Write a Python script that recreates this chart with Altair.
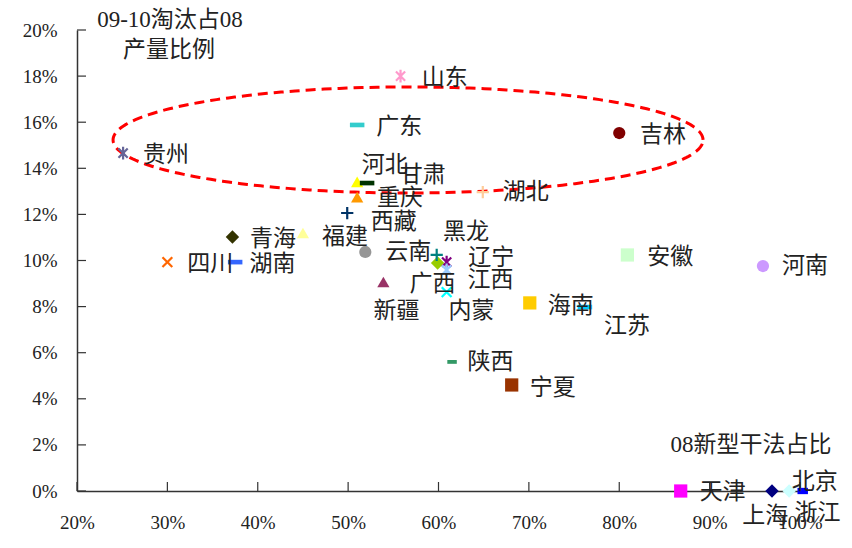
import altair as alt
import numpy as np
import pandas as pd

# ---- data: 2008 share of new dry-process capacity (x) vs 2009-10 phase-out share of 2008 output (y)
provinces = ["贵州", "山东", "广东", "吉林", "河北", "甘肃", "重庆", "湖北", "西藏", "福建",
             "青海", "四川", "湖南", "云南", "黑龙", "广西", "辽宁", "江西", "内蒙", "新疆",
             "海南", "江苏", "陕西", "宁夏", "安徽", "河南", "天津", "上海", "浙江", "北京"]
new_dry_share = [0.251, 0.558, 0.510, 0.800, 0.510, 0.521, 0.510, 0.649, 0.499, 0.450,
                 0.372, 0.300, 0.375, 0.519, 0.598, 0.599, 0.609, 0.609, 0.609, 0.539,
                 0.701, 0.762, 0.615, 0.681, 0.809, 0.959, 0.868, 0.969, 0.988, 1.003]
phaseout_share = [0.1466, 0.1800, 0.1588, 0.1553, 0.1341, 0.1336, 0.1275, 0.1297, 0.1206, 0.1119,
                  0.1102, 0.0993, 0.0993, 0.1037, 0.1024, 0.0989, 0.0993, 0.0959, 0.0863, 0.0907,
                  0.0816, 0.0798, 0.0560, 0.0460, 0.1024, 0.0976, 0.0, 0.0, 0.0, 0.0]

x_ticks = [0.2, 0.3, 0.4, 0.5, 0.6, 0.7, 0.8, 0.9, 1.0]
y_ticks = [0.0, 0.02, 0.04, 0.06, 0.08, 0.10, 0.12, 0.14, 0.16, 0.18, 0.20]

# ---- marker styling
marker_color = ["#666699", "#FF99CC", "#33CCCC", "#800000", "#FFFF00", "#003300", "#FF9900", "#FFCC99",
                "#003366", "#FFFF99", "#333300", "#FF6600", "#3366FF", "#969696", "#008080", "#99CC00",
                "#800080", "#99CCFF", "#00FFFF", "#993366", "#FFCC00", "#00CCFF", "#339966", "#993300",
                "#CCFFCC", "#CC99FF", "#FF00FF", "#000080", "#CCFFFF", "#0000FF"]
marker_kind = ["star", "star", "dash", "circle", "tri", "dash", "tri", "plus", "plus", "tri",
               "diamond", "cross", "dash", "circle", "plus", "diamond", "star", "star", "cross", "tri",
               "square", "dash", "dash_s", "square", "square", "circle", "square", "diamond", "diamond", "dash_b"]

SHAPE_PATH = {
    "circle": "circle",
    "square": "square",
    "tri": "triangle-up",
    "diamond": "diamond",
    "dash": "M-1,-0.32H1V0.32H-1Z",
    "dash_s": "M-1,-0.4H1V0.4H-1Z",
    "dash_b": "M-1,-0.6H1V0.6H-1Z",
    "plus": "M-1,0H1M0,-1V1",
    "cross": "M-0.8,-0.8L0.8,0.8M-0.8,0.8L0.8,-0.8",
    "star": "M-0.75,-0.75L0.75,0.75M-0.75,0.75L0.75,-0.75M0,-1.05V1.05",
}
SHAPE_SIZE = {"circle": 150, "square": 175, "tri": 150, "diamond": 180, "dash": 210,
              "dash_s": 90, "dash_b": 110, "plus": 150, "cross": 150, "star": 150}
STROKED = {"plus", "cross", "star"}

# label anchor offsets from each marker (axis units)
label_dx = [0.022, 0.0235, 0.021, 0.023, 0.005, 0.036, 0.022, 0.022, 0.026, 0.021,
            0.0195, 0.022, 0.016, 0.022, 0.007, -0.031, 0.024, 0.023, 0.002, -0.011,
            0.020, 0.021, 0.017, 0.020, 0.022, 0.021, 0.021, -0.033, 0.006, -0.012]
label_dy = [-0.0008, -0.0008, -0.0008, -0.0009, 0.0073, 0.0035, -0.0004, 0.0, -0.0039, -0.0017,
            -0.0009, -0.0008, -0.0008, 0.0, 0.0100, -0.0091, 0.0018, -0.0044, -0.0082, -0.0126,
            -0.0013, -0.0082, 0.0, -0.0013, -0.0009, 0.0, -0.0004, -0.0108, -0.0095, 0.0039]

df = pd.DataFrame({
    "name": provinces,
    "x": new_dry_share,
    "y": phaseout_share,
    "color": marker_color,
    "shape": [SHAPE_PATH[k] for k in marker_kind],
    "size": [SHAPE_SIZE[k] for k in marker_kind],
    "stroked": [k in STROKED for k in marker_kind],
})
df["lx"] = df["x"] + np.array(label_dx)
df["ly"] = df["y"] + np.array(label_dy)

NUM_FONT = "Liberation Serif, Times New Roman, serif"
SERIF = "Liberation Serif, Noto Sans CJK SC"
TEXT_COLOR = "#222222"

xs = alt.Scale(domain=[0.2, 1.0], nice=False, zero=False)
ys = alt.Scale(domain=[0.0, 0.2], nice=False, zero=False)

base = alt.Chart(df)

x_axis = alt.Axis(values=x_ticks, format=".0%", grid=False, ticks=False, labelPadding=22,
                  labelFont=NUM_FONT, labelFontSize=19, labelColor=TEXT_COLOR,
                  domainColor="#333333", domainWidth=1.5, title=None, labelFlush=False)
y_axis = alt.Axis(values=y_ticks, format=".0%", grid=False, ticks=False, labelPadding=20,
                  labelFont=NUM_FONT, labelFontSize=19, labelColor=TEXT_COLOR,
                  domainColor="#333333", domainWidth=1.5, title=None, labelFlush=False)

filled = base.transform_filter("!datum.stroked").mark_point(filled=True, opacity=1).encode(
    x=alt.X("x:Q", scale=xs, axis=x_axis),
    y=alt.Y("y:Q", scale=ys, axis=y_axis),
    shape=alt.Shape("shape:N", scale=None),
    color=alt.Color("color:N", scale=None),
    size=alt.Size("size:Q", scale=None),
)

stroked = base.transform_filter("datum.stroked").mark_point(filled=False, strokeWidth=2.2, opacity=1).encode(
    x=alt.X("x:Q", scale=xs),
    y=alt.Y("y:Q", scale=ys),
    shape=alt.Shape("shape:N", scale=None),
    color=alt.Color("color:N", scale=None),
    size=alt.Size("size:Q", scale=None),
)

labels = base.mark_text(align="left", baseline="middle", font=SERIF, fontSize=23,
                        color=TEXT_COLOR).encode(
    x=alt.X("lx:Q", scale=xs),
    y=alt.Y("ly:Q", scale=ys),
    text="name:N",
)

# red dashed ellipse around the high phase-out group
t = np.linspace(0, 2 * np.pi, 241)
ell = pd.DataFrame({
    "ex": 0.5663 + 0.3264 * np.cos(t),
    "ey": 0.1523 + 0.0230 * np.sin(t),
    "k": np.arange(len(t)),
})
ellipse = alt.Chart(ell).mark_line(color="#FF0000", strokeWidth=3, strokeDash=[10, 6]).encode(
    x=alt.X("ex:Q", scale=xs),
    y=alt.Y("ey:Q", scale=ys),
    order="k:Q",
)

# inward tick marks
y_tick_marks = alt.Chart(pd.DataFrame({"v": y_ticks})).mark_rule(color="#333333", strokeWidth=1.2).encode(
    y=alt.Y("v:Q", scale=ys), x=alt.value(0), x2=alt.value(9)
)
x_tick_marks = alt.Chart(pd.DataFrame({"v": x_ticks})).mark_rule(color="#333333", strokeWidth=1.2).encode(
    x=alt.X("v:Q", scale=xs), y=alt.value(452), y2=alt.value(461)
)


def note(text, px, py):
    return alt.Chart(pd.DataFrame({"t": [text]})).mark_text(
        align="center", baseline="middle", font=SERIF, fontSize=23, color=TEXT_COLOR
    ).encode(text="t:N", x=alt.value(px), y=alt.value(py))


y_title_1 = note("09-10淘汰占08", 93, -10)
y_title_2 = note("产量比例", 92, 20)
x_title = note("08新型干法占比", 674, 415)

chart = alt.layer(
    ellipse, y_tick_marks, x_tick_marks, filled, stroked, labels, y_title_1, y_title_2, x_title
).properties(
    width=723, height=461,
    autosize=alt.AutoSizeParams(type="none"),
    padding={"left": 77, "top": 30, "right": 52, "bottom": 57},
    background="white",
).configure_view(stroke=None)

chart.save("out.html", embed_options={"renderer": "svg", "actions": False})
